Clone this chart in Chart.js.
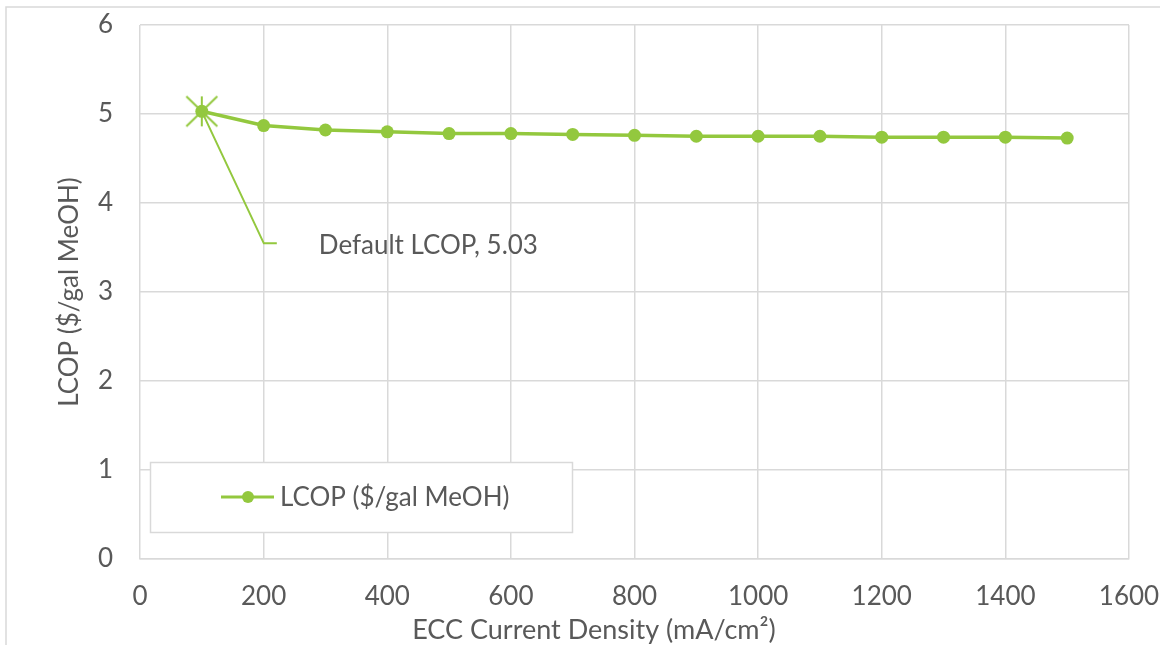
<!DOCTYPE html>
<html><head><meta charset="utf-8">
<script src="https://cdn.jsdelivr.net/npm/chart.js@4/dist/chart.umd.min.js"></script>
<style>html,body{margin:0;padding:0;background:#fff}#wrap{width:1166px;height:645px;position:relative}</style>
</head><body><div id="wrap"><canvas id="c" width="1166" height="645"></canvas></div>
<script>
const currentDensity = [100,200,300,400,500,600,700,800,900,1000,1100,1200,1300,1400,1500];
const lcop = [5.03,4.87,4.82,4.80,4.78,4.78,4.77,4.76,4.75,4.75,4.75,4.74,4.74,4.74,4.73];
const xTicks = [0,200,400,600,800,1000,1200,1400,1600];
const yTicks = [0,1,2,3,4,5,6];
const seriesLabel = 'LCOP ($/gal MeOH)';
const xTitle = 'ECC Current Density (mA/cm²)';
const yTitle = 'LCOP ($/gal MeOH)';
const defaultX = 100, defaultY = 5.03;
const annotationText = 'Default LCOP, 5.03';

const GREEN = '#93c83e';
const GRID = '#d9d9d9';
const TXT = '#595959';
const FONT = 'Lato';
const FS = 26;

// asterisk marker image (vertical stroke + X) used as point style
const star = document.createElement('canvas');
star.width = 36; star.height = 36;
(function () {
  const g = star.getContext('2d');
  g.strokeStyle = GREEN; g.lineWidth = 2;
  g.beginPath();
  g.moveTo(18, 3); g.lineTo(18, 33);
  g.moveTo(2.5, 3); g.lineTo(33.5, 33);
  g.moveTo(33.5, 3); g.lineTo(2.5, 33);
  g.stroke();
})();

const deco = {
  id: 'deco',
  beforeDraw(chart) {
    const ctx = chart.ctx;
    ctx.save();
    ctx.fillStyle = '#fff';
    ctx.fillRect(0, 0, chart.width, chart.height);
    ctx.strokeStyle = GRID; ctx.lineWidth = 1.5;
    ctx.beginPath();
    ctx.moveTo(6, 650); ctx.lineTo(6, 7); ctx.lineTo(1160, 7);
    ctx.stroke();
    ctx.restore();
  },
  afterDraw(chart) {
    const ctx = chart.ctx;
    const xs = chart.scales.x, ys = chart.scales.y;
    ctx.save();
    const px = xs.getPixelForValue(defaultX), py = ys.getPixelForValue(defaultY);
    const lx = px + 62, ly = py + 132;
    ctx.strokeStyle = GREEN; ctx.lineWidth = 2;
    ctx.beginPath();
    ctx.moveTo(px, py); ctx.lineTo(lx, ly); ctx.lineTo(lx + 13, ly);
    ctx.stroke();
    ctx.fillStyle = TXT;
    ctx.font = FS + 'px ' + FONT;
    ctx.textBaseline = 'middle'; ctx.textAlign = 'left';
    ctx.fillText(annotationText, lx + 55, ly + 2);
    ctx.textAlign = 'center';
    ctx.font = '27px ' + FONT;
    ctx.fillText(xTitle, 594, 630);
    ctx.font = FS + 'px ' + FONT;
    // legend box
    ctx.fillStyle = '#fff';
    ctx.fillRect(150, 462, 423, 71);
    ctx.strokeStyle = GRID; ctx.lineWidth = 1.5;
    ctx.strokeRect(150.5, 462.5, 422, 70);
    ctx.strokeStyle = GREEN; ctx.lineWidth = 3;
    ctx.beginPath(); ctx.moveTo(221, 497); ctx.lineTo(274, 497); ctx.stroke();
    ctx.fillStyle = GREEN;
    ctx.beginPath(); ctx.arc(248, 497, 6, 0, Math.PI * 2); ctx.fill();
    ctx.fillStyle = TXT; ctx.textAlign = 'left';
    ctx.fillText(seriesLabel, 280, 498);
    ctx.restore();
  }
};

new Chart(document.getElementById('c'), {
  type: 'line',
  data: {
    datasets: [
      {
        label: seriesLabel,
        data: currentDensity.map((x, i) => ({ x, y: lcop[i] })),
        borderColor: GREEN, backgroundColor: GREEN,
        borderWidth: 3.5, pointRadius: 6.5, pointBorderWidth: 0,
        pointBackgroundColor: GREEN, tension: 0
      },
      {
        label: 'default',
        data: [{ x: defaultX, y: defaultY }],
        showLine: false, pointStyle: star, pointRadius: 16
      }
    ]
  },
  options: {
    responsive: false, animation: false, devicePixelRatio: 1,
    layout: { padding: { top: 25, right: 37, left: 0, bottom: 0 } },
    plugins: { legend: { display: false }, tooltip: { enabled: false } },
    scales: {
      x: {
        type: 'linear', min: 0, max: 1600,
        afterBuildTicks: s => { s.ticks = xTicks.map(v => ({ value: v })); },
        ticks: { font: { family: FONT, size: FS }, color: TXT, padding: 22, callback: v => String(v) },
        grid: { color: GRID, lineWidth: 1.5, drawTicks: false },
        border: { color: GRID, width: 1.5 },
        afterFit: s => { s.height = 86; s.paddingLeft = 0; s.paddingRight = 0; }
      },
      y: {
        min: 0, max: 6,
        afterBuildTicks: s => { s.ticks = yTicks.map(v => ({ value: v })); },
        ticks: { font: { family: FONT, size: FS }, color: TXT, padding: 27, callback: v => String(v) },
        grid: { color: GRID, lineWidth: 1.5, drawTicks: false },
        border: { display: false },
        title: { display: true, text: yTitle, font: { family: FONT, size: FS }, color: TXT, padding: { top: 54, bottom: 0 } },
        afterFit: s => { s.width = 140; s.paddingTop = 0; s.paddingBottom = 0; }
      }
    }
  },
  plugins: [deco]
});
</script></body></html>
